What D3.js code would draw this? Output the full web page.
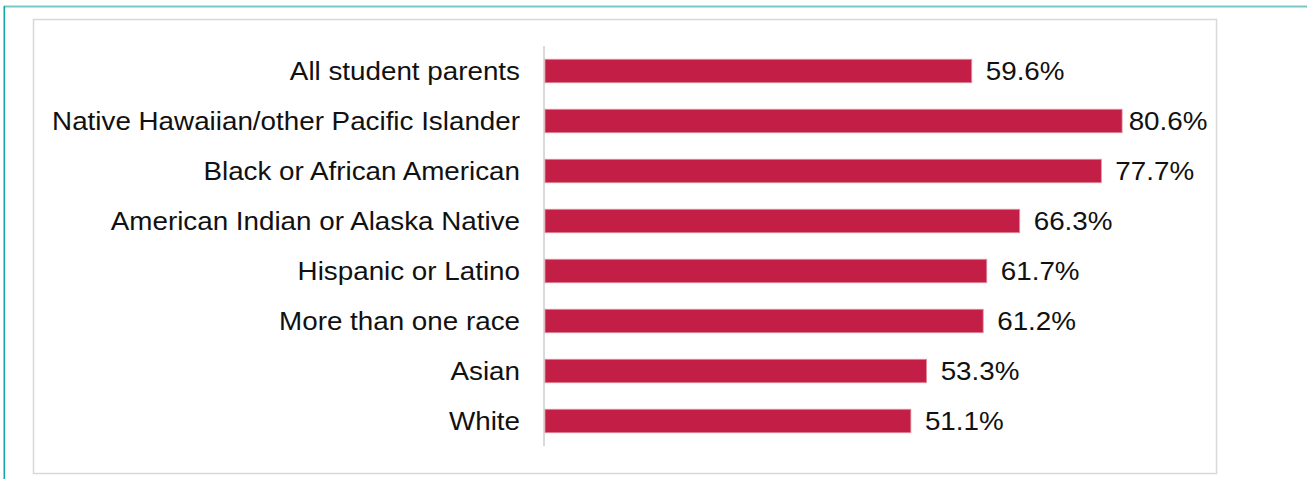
<!DOCTYPE html>
<html>
<head>
<meta charset="utf-8">
<script src="https://cdn.jsdelivr.net/npm/d3@7"></script>
<style>
  html, body { margin: 0; padding: 0; background: #fff; }
  svg { display: block; }
  text { font-family: "Liberation Sans", Arial, sans-serif; fill: #111; }
</style>
</head>
<body>
<svg id="chart" width="1307" height="479"></svg>
<script>
// Share of student parents by race/ethnicity (percent)
const categories = [
  "All student parents",
  "Native Hawaiian/other Pacific Islander",
  "Black or African American",
  "American Indian or Alaska Native",
  "Hispanic or Latino",
  "More than one race",
  "Asian",
  "White"
];
const values = [59.6, 80.6, 77.7, 66.3, 61.7, 61.2, 53.3, 51.1];
const valueLabels = ["59.6%", "80.6%", "77.7%", "66.3%", "61.7%", "61.2%", "53.3%", "51.1%"];

const rows = categories.map((c, i) => ({ category: c, value: values[i], label: valueLabels[i] }));

const svg = d3.select("#chart");
const W = 1307, H = 479;

// Frame: teal rules on top and left, light grey panel inside
svg.append("line")
  .attr("x1", 4).attr("x2", W).attr("y1", 6.6).attr("y2", 6.6)
  .attr("stroke", "#79c8c8").attr("stroke-width", 2);
svg.append("line")
  .attr("x1", 4.3).attr("x2", 4.3).attr("y1", 6).attr("y2", H)
  .attr("stroke", "#17a6a6").attr("stroke-width", 1.6);
const panel = { x: 33.5, y: 19.5, w: 1183, h: 454 };
svg.append("rect")
  .attr("x", panel.x).attr("y", panel.y).attr("width", panel.w).attr("height", panel.h)
  .attr("fill", "none").attr("stroke", "#d8d8d8").attr("stroke-width", 1.5);

const x = d3.scaleLinear().domain([0, 90]).range([545, 545 + 90 * 7.16]);
const y = d3.scaleBand().domain(categories).range([46, 446])
  .paddingInner(0.53).paddingOuter(0.265);

const stretch = 1.112;   // slightly wide lettering
const fontSize = 25;
const labelLimit = panel.x + panel.w - 9;   // keep value labels inside the panel

// Vertical category axis line
svg.append("line")
  .attr("x1", x(0) - 1).attr("x2", x(0) - 1)
  .attr("y1", y.range()[0]).attr("y2", y.range()[1])
  .attr("stroke", "#d9d9d9").attr("stroke-width", 2);

// Bars
svg.append("g").selectAll("rect")
  .data(rows).join("rect")
  .attr("x", x(0))
  .attr("y", d => y(d.category))
  .attr("width", d => x(d.value) - x(0))
  .attr("height", y.bandwidth())
  .attr("fill", "#c31f46")
  .attr("stroke", "#e3929f")
  .attr("stroke-width", 0.8);

// Category labels
svg.append("g").selectAll("text")
  .data(rows).join("text")
  .attr("transform", d => `translate(${x(0) - 25},${y(d.category) + y.bandwidth() / 2 + 0.36 * fontSize}) scale(${stretch},1)`)
  .attr("text-anchor", "end")
  .style("font-size", fontSize + "px")
  .text(d => d.category);

// Value labels, nudged left when they would run past the panel edge
svg.append("g").selectAll("text")
  .data(rows).join("text")
  .attr("text-anchor", "start")
  .style("font-size", fontSize + "px")
  .text(d => d.label)
  .attr("transform", function (d) {
    const w = this.getComputedTextLength() * stretch;
    const tx = Math.min(x(d.value) + 14, labelLimit - w);
    return `translate(${tx},${y(d.category) + y.bandwidth() / 2 + 0.36 * fontSize}) scale(${stretch},1)`;
  });
</script>
</body>
</html>
